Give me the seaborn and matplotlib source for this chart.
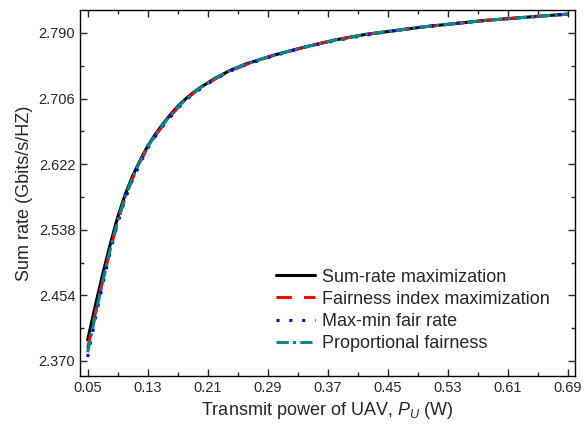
import numpy as np
import pandas as pd
import seaborn as sns
import matplotlib.pyplot as plt
from matplotlib.ticker import FormatStrFormatter

# %%
power = [0.05, 0.06, 0.07, 0.08, 0.09, 0.10, 0.11, 0.12, 0.13, 0.14, 0.15, 0.16,
         0.17, 0.18, 0.19, 0.20, 0.22, 0.24, 0.26, 0.28, 0.30, 0.34, 0.38, 0.42,
         0.46, 0.50, 0.54, 0.58, 0.62, 0.66, 0.69]

sum_rate_max = [2.397, 2.440, 2.481, 2.519, 2.554, 2.583, 2.607, 2.627, 2.645, 2.660,
                2.673, 2.685, 2.696, 2.705, 2.713, 2.720, 2.732, 2.742, 2.750, 2.756,
                2.762, 2.772, 2.781, 2.788, 2.793, 2.798, 2.802, 2.806, 2.809, 2.812,
                2.814]
fairness_index = [2.386, 2.430, 2.472, 2.512, 2.548, 2.579, 2.604, 2.625, 2.643, 2.658,
                  2.671, 2.683, 2.694, 2.704, 2.712, 2.719, 2.731, 2.741, 2.749, 2.756,
                  2.762, 2.772, 2.781, 2.788, 2.793, 2.798, 2.802, 2.806, 2.809, 2.812,
                  2.814]
max_min_fair = [2.375, 2.423, 2.467, 2.509, 2.546, 2.577, 2.602, 2.623, 2.642, 2.657,
                2.670, 2.682, 2.693, 2.703, 2.711, 2.718, 2.731, 2.741, 2.749, 2.755,
                2.761, 2.772, 2.780, 2.787, 2.793, 2.798, 2.802, 2.806, 2.809, 2.812,
                2.814]
proportional = [2.381, 2.427, 2.471, 2.512, 2.549, 2.580, 2.605, 2.626, 2.644, 2.659,
                2.672, 2.684, 2.695, 2.704, 2.712, 2.720, 2.732, 2.742, 2.750, 2.756,
                2.762, 2.772, 2.781, 2.788, 2.793, 2.798, 2.802, 2.806, 2.809, 2.812,
                2.814]

# %%
sns.set_style("ticks")
plt.rcParams["font.family"] = ["Liberation Sans", "DejaVu Sans"]
plt.rcParams["mathtext.fontset"] = "custom"
plt.rcParams["mathtext.rm"] = "Liberation Sans"
plt.rcParams["mathtext.it"] = "Liberation Sans:italic"

fig = plt.figure(figsize=(5.85, 4.3), dpi=100)
ax = fig.add_axes([0.137, 0.126, 0.846, 0.851])

series = [
    (sum_rate_max, "Sum-rate maximization", "black", "-"),
    (fairness_index, "Fairness index maximization", "red", (0, (5, 4))),
    (max_min_fair, "Max-min fair rate", "blue", (0, (1, 3.2))),
    (proportional, "Proportional fairness", "#008B8B", (0, (4, 1.4, 1, 1.4))),
]
for vals, name, col, ls in series:
    sns.lineplot(x=power, y=vals, ax=ax, color=col, linestyle=ls, lw=2.2, label=name)

ax.set_xlim(0.04, 0.70)
ax.set_ylim(2.351, 2.8195)
ax.set_xticks(np.arange(0.05, 0.70, 0.08))
ax.set_xticks(np.arange(0.09, 0.70, 0.08), minor=True)
ax.set_yticks(np.arange(2.370, 2.80, 0.084))
ax.set_yticks(np.arange(2.412, 2.80, 0.084), minor=True)
ax.xaxis.set_major_formatter(FormatStrFormatter("%.2f"))
ax.yaxis.set_major_formatter(FormatStrFormatter("%.3f"))
ax.tick_params(which="both", direction="in", top=True, right=True, width=1, labelsize=10.5)
ax.tick_params(which="major", length=5)
ax.tick_params(which="minor", length=3)
for s in ax.spines.values():
    s.set_linewidth(1)
    s.set_color("black")

ax.set_xlabel(r"Transmit power of UAV, $P_{U}$ (W)", fontsize=13)
ax.set_ylabel("Sum rate (Gbits/s/HZ)", fontsize=13)
ax.legend(loc="upper left", bbox_to_anchor=(0.362, 0.337), frameon=False, fontsize=13,
          handlelength=2.2, handletextpad=0.35, labelspacing=0.28)

fig.savefig("out.png", dpi=100)
